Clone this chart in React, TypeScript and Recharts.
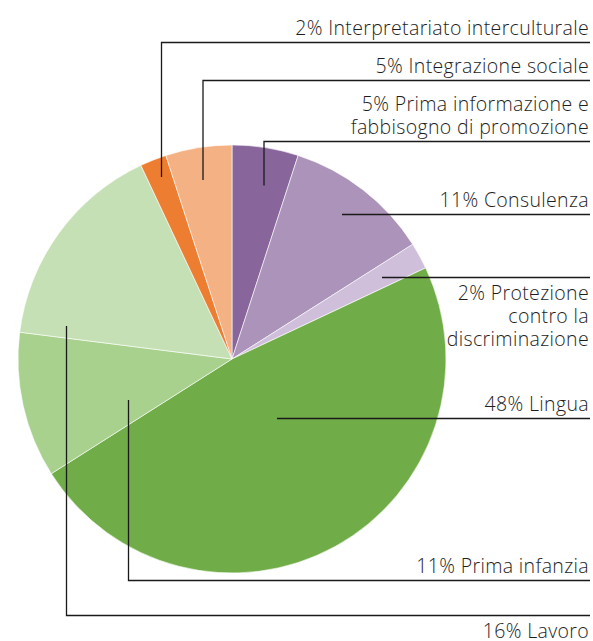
import React from "react";
import { PieChart, Pie, Cell } from "recharts";

// ---- Data ----
const categories = [
  "Prima informazione e fabbisogno di promozione",
  "Consulenza",
  "Protezione contro la discriminazione",
  "Lingua",
  "Prima infanzia",
  "Lavoro",
  "Interpretariato interculturale",
  "Integrazione sociale",
];
const values = [5, 11, 2, 48, 11, 16, 2, 5];
const labelLines: string[][] = [
  ["5% Prima informazione e", "fabbisogno di promozione"],
  ["11% Consulenza"],
  ["2% Protezione", "contro la", "discriminazione"],
  ["48% Lingua"],
  ["11% Prima infanzia"],
  ["16% Lavoro"],
  ["2% Interpretariato interculturale"],
  ["5% Integrazione sociale"],
];
const colors = [
  "#88659A",
  "#AC93BA",
  "#CFBFDB",
  "#70AC48",
  "#A9D18E",
  "#C5E0B4",
  "#ED7D31",
  "#F4B183",
];

// ---- Label layout (leader lines / text placement, pixels) ----
const labelLayout = [
  { anchorX: 264, anchorY: 185.5, lineY: 141.5, below: false },
  { anchorX: 342, anchorY: 214.5, lineY: 214.5, below: false },
  { anchorX: 382, anchorY: 277.5, lineY: 277.5, below: true },
  { anchorX: 277, anchorY: 418.5, lineY: 418.5, below: false },
  { anchorX: 128.5, anchorY: 400, lineY: 580.5, below: false },
  { anchorX: 66.5, anchorY: 326, lineY: 615.5, below: true },
  { anchorX: 161.5, anchorY: 177, lineY: 42.5, below: false },
  { anchorX: 203, anchorY: 180, lineY: 80.5, below: false },
];
const LINE_RIGHT = 590;
const TEXT_RIGHT = 589;
const LINE_GAP = 23;

const data = categories.map((name, i) => ({ name, value: values[i] }));

const renderLabel = (props: any) => {
  const i: number = props.index;
  const lay = labelLayout[i];
  const lines = labelLines[i];
  if (!lay) return null;
  const pts = `${lay.anchorX},${lay.anchorY} ${lay.anchorX},${lay.lineY} ${LINE_RIGHT},${lay.lineY}`;
  const texts = lines.map((t, k) => {
    const y = lay.below
      ? lay.lineY + 22 + k * LINE_GAP
      : lay.lineY - 8 - (lines.length - 1 - k) * LINE_GAP;
    return (
      <text
        key={k}
        x={TEXT_RIGHT}
        y={y}
        textAnchor="end"
        fontFamily="'Open Sans', sans-serif"
        fontWeight={300}
        fontSize={19.5}
        letterSpacing={0.35}
        fill="#1e1e1e"
      >
        {t}
      </text>
    );
  });
  return (
    <g key={`lbl-${i}`}>
      <polyline points={pts} fill="none" stroke="#1a1a1a" strokeWidth={1.3} />
      {texts}
    </g>
  );
};

export default function App() {
  return (
    <div style={{ position: "absolute", left: 0, top: 0, background: "#fff" }}>
      <PieChart width={593} height={641} margin={{ top: 0, right: 0, bottom: 0, left: 0 }}>
        <Pie
          data={data}
          dataKey="value"
          nameKey="name"
          cx={232}
          cy={359}
          innerRadius={0}
          outerRadius={214}
          startAngle={90}
          endAngle={-270}
          stroke="#ffffff"
          strokeWidth={0.6}
          label={renderLabel}
          labelLine={false}
          isAnimationActive={false}
        >
          {data.map((d, i) => (
            <Cell key={d.name} fill={colors[i]} />
          ))}
        </Pie>
      </PieChart>
    </div>
  );
}
